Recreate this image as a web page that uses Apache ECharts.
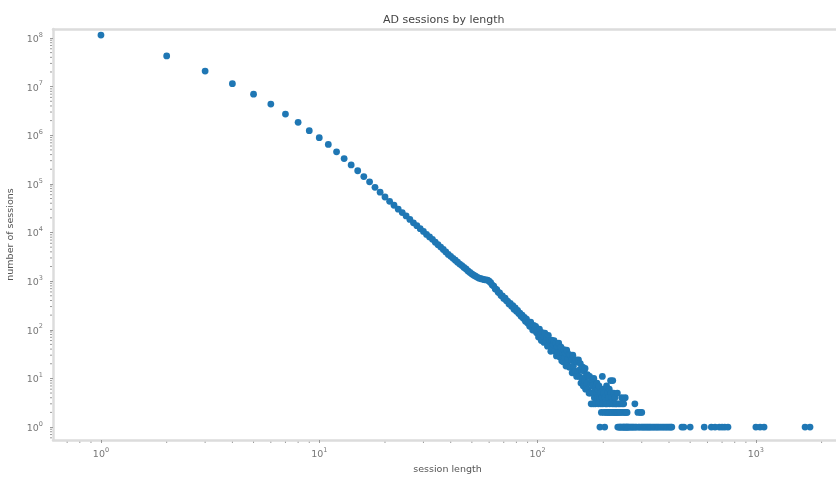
<!DOCTYPE html>
<html><head><meta charset="utf-8">
<script src="https://cdn.jsdelivr.net/npm/echarts/dist/echarts.min.js"></script>
<style>html,body{margin:0;padding:0;background:#fff;overflow:hidden}#c{width:836px;height:481px}</style>
</head><body><div id="c"></div>
<script>
// counts for session lengths 1, 2, 3, ... (index + 1 = session length)
const headCounts = [
  115000000, 42700000, 20900000, 11500000, 7000000, 4370000, 2730000, 1840000, 1240000, 890000,
  646000, 457000, 331000, 245000, 186000, 141000, 110000, 85100, 67600, 53700,
  43700, 36300, 30200, 25700, 21900, 18600, 15800, 13800, 12000, 10500,
  9120, 8130, 7240, 6310, 5620, 5010, 4470, 3980, 3550, 3240,
  2950, 2690, 2450, 2240, 2090, 1910, 1780, 1620, 1510, 1410,
  1320, 1260, 1200, 1150, 1120, 1100, 1070, 1060, 1050, 1000,
  930, 830, 790, 690, 670, 590, 575, 505, 495, 440,
  445, 395, 385, 340, 350, 305, 315, 265, 280, 240,
  250, 215, 220, 190, 200, 172, 180, 150, 165, 138,
  140, 118, 144, 117, 99, 123, 98, 117, 87, 98,
  71, 103, 79, 60, 87, 74, 55, 85, 59, 69,
  46, 77, 50, 59, 36, 61, 42, 50, 60, 36,
  53, 29, 45, 34, 53, 28, 34, 44, 23, 34,
  22, 39, 27, 33, 18, 38, 21, 25, 31, 17,
  30, 17, 24, 13, 30, 18, 13, 23, 14, 24,
  11, 22, 14, 24, 11, 15, 20, 8, 15, 10,
  17, 7, 14, 9, 16, 6, 11, 8, 12, 6,
  11, 5, 11, 5, 8, 3, 9, 5, 7, 3,
  10, 4, 6, 3, 7
];
// sparse tail: session length / count pairs
const tailLengths = [
  186,187,188,189,190,191,192,193,194,195,196,197,198,199,200,
  201,202,203,204,205,206,207,208,209,210,211,212,213,214,215,
  216,217,218,219,220,221,222,223,224,225,226,227,228,229,230,
  231,232,233,234,235,236,237,238,239,240,241,242,243,244,245,
  246,247,248,249,250,251,252,253,254,255,256,257,258,260,262,
  265,268,271,274,277,279,281,284,288,290,293,296,298,300,302,
  306,310,314,318,322,326,330,335,340,345,350,355,360,366,372,
  378,384,390,396,402,408,412,458,468,500,580,625,650,680,700,
  720,745,1000,1045,1090,1680,1770
];
const tailCounts = [
  5,8,4,6,3,7,4,1,5,3,2,4,11,3,6,
  5,2,1,4,3,2,7,3,5,2,4,2,6,3,2,
  9,5,2,4,3,9,2,5,3,2,4,2,3,2,3,
  2,5,1,2,3,1,2,1,3,1,2,1,4,3,1,
  2,1,3,1,1,2,4,1,2,1,1,2,1,1,1,
  1,1,1,1,1,3,1,1,2,1,1,2,1,2,1,
  1,1,1,1,1,1,1,1,1,1,1,1,1,1,1,
  1,1,1,1,1,1,1,1,1,1,1,1,1,1,1,
  1,1,1,1,1,1,1
];
const xMin = 0.603, xMax = 2480;
const yMin = 0.541, yMax = 1.53e8;
const titleText = 'AD sessions by length';
const xName = 'session length';
const yName = 'number of sessions';

const points = headCounts.map((c, i) => [i + 1, c]).concat(tailLengths.map((l, i) => [l, tailCounts[i]]));

function powLabel(v) {
  const lg = Math.log10(v);
  const p = Math.round(lg);
  if (Math.abs(lg - p) > 0.01) return '';
  return '{b|10}{s|' + p + '}';
}
const rich = {
  b: {fontSize: 9.5, color: '#777', fontFamily: 'DejaVu Sans', lineHeight: 13, verticalAlign: 'bottom'},
  s: {fontSize: 6.5, color: '#777', fontFamily: 'DejaVu Sans', lineHeight: 7, verticalAlign: 'top'}
};
const axisCommon = {
  type: 'log', logBase: 10,
  axisLine: {show: true, lineStyle: {color: '#dcdcdc', width: 2.5}},
  axisTick: {show: true, length: 3, lineStyle: {color: '#9a9a9a', width: 1}},
  splitLine: {show: false},
  nameLocation: 'middle',
  nameTextStyle: {color: '#555', fontSize: 9.5, fontFamily: 'DejaVu Sans'}
};
const chart = echarts.init(document.getElementById('c'), null, {renderer: 'canvas'});
chart.setOption({
  animation: false,
  backgroundColor: '#fff',
  title: {text: titleText, left: 378, top: 10, textStyle: {fontSize: 11, fontWeight: 'normal', color: '#444', fontFamily: 'DejaVu Sans'}},
  grid: {left: 53, right: -6, top: 29, bottom: 41, show: false, containLabel: false, outerBoundsMode: 'none'},
  xAxis: [
    Object.assign({}, axisCommon, {
      min: xMin, max: xMax, name: xName, nameGap: 25, splitNumber: 4,
      axisLabel: {formatter: powLabel, rich: rich, margin: 7, showMinLabel: false, showMaxLabel: false}
    }),
    {type: 'log', logBase: 10, position: 'top', min: xMin, max: xMax,
     axisLine: {show: true, lineStyle: {color: '#dcdcdc', width: 2.5}},
     axisTick: {show: false}, axisLabel: {show: false}, splitLine: {show: false}}
  ],
  yAxis: Object.assign({}, axisCommon, {
    min: yMin, max: yMax, name: yName, nameGap: 30, splitNumber: 9,
    axisLabel: {formatter: powLabel, rich: rich, margin: 10, showMinLabel: false, showMaxLabel: false}
  }),
  series: [{
    type: 'scatter', data: points, symbol: 'circle', symbolSize: 6.8,
    itemStyle: {color: '#1f77b4', opacity: 1}
  }]
});

// minor log ticks positioned through the axes' own scales
const g = [];
const gridRect = chart.getModel().getComponent('grid').coordinateSystem.getRect();
for (let d = -1; d <= 3; d++) {
  for (let k = 2; k <= 9; k++) {
    const v = k * Math.pow(10, d);
    if (v > xMin && v < xMax) {
      const px = chart.convertToPixel({xAxisIndex: 0}, v);
      g.push({type: 'line', shape: {x1: px, y1: gridRect.y + gridRect.height + 1, x2: px, y2: gridRect.y + gridRect.height + 3}, style: {stroke: '#9a9a9a', lineWidth: 1}, silent: true});
    }
  }
}
for (let d = -1; d <= 8; d++) {
  for (let k = 2; k <= 9; k++) {
    const v = k * Math.pow(10, d);
    if (v > yMin && v < yMax) {
      const py = chart.convertToPixel({yAxisIndex: 0}, v);
      g.push({type: 'line', shape: {x1: gridRect.x - 1, y1: py, x2: gridRect.x - 3, y2: py}, style: {stroke: '#9a9a9a', lineWidth: 1}, silent: true});
    }
  }
}
// keep the right edge of the plot open, as in the source
g.push({type: 'rect', shape: {x: 828, y: gridRect.y + 2, width: 10, height: gridRect.height - 4}, style: {fill: '#fff'}, z: 100, silent: true});
chart.setOption({graphic: g});
</script>
</body></html>
